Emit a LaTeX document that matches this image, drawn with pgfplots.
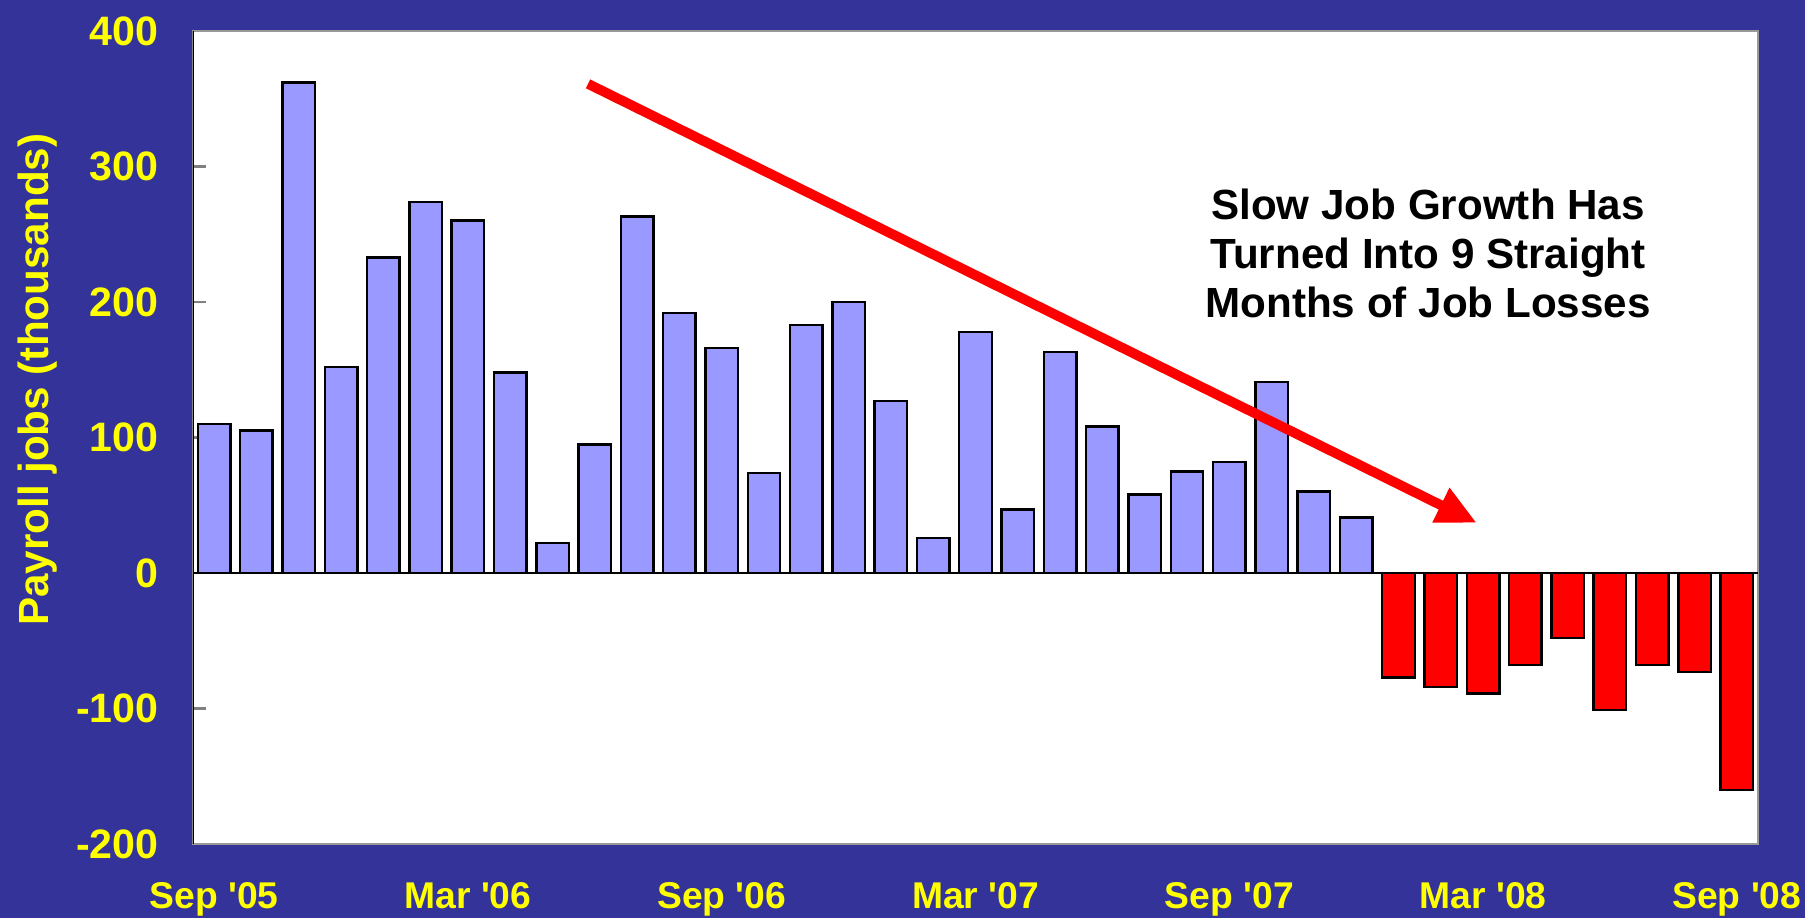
\documentclass[border=0pt]{standalone}
\usepackage{fontspec}
\setmainfont{Liberation Sans}
\usepackage{pgfplots}
\pgfplotsset{compat=1.18}
\usetikzlibrary{arrows.meta}
\definecolor{bg}{RGB}{51,51,153}
\definecolor{barblue}{RGB}{153,153,255}
\definecolor{txtyellow}{RGB}{255,255,0}
\begin{document}
\begin{tikzpicture}
\fill[bg] (0,0) rectangle (180.5mm,91.8mm);
\useasboundingbox (0,0) rectangle (180.5mm,91.8mm);
\begin{axis}[
  at={(19.3mm,7.4mm)}, anchor=south west,
  width=156.5mm, height=81.3mm, scale only axis,
  xmin=0.5, xmax=37.5, ymin=-200, ymax=400,
  axis background/.style={fill=white},
  axis line style={gray!80, line width=0.8pt},
  ytick={-200,-100,0,100,200,300,400},
  xtick={1,7,13,19,25,31,37},
  xticklabels={Sep \textquotesingle05, Mar \textquotesingle06, Sep \textquotesingle06, Mar \textquotesingle07, Sep \textquotesingle07, Mar \textquotesingle08, Sep \textquotesingle08},
  /pgf/number format/assume math mode=true,
  tick align=inside,
  ytick pos=left,
  x tick style={draw=none},
  y tick style={gray, line width=0.6pt},
  major tick length=1.3mm,
  xticklabel style={font=\fontsize{10.6}{12}\selectfont\bfseries, text=txtyellow, anchor=north, yshift=-2.6mm},
  yticklabel style={font=\fontsize{11.7}{13}\selectfont\bfseries, text=txtyellow, xshift=-2.2mm},
  ylabel={Payroll jobs (thousands)},
  ylabel style={at={(axis description cs:-0.086,0.571)}, anchor=south, inner sep=0pt, font=\fontsize{12}{14}\selectfont\bfseries, text=txtyellow},
]
\addplot[ybar, bar width=3.25mm, bar shift=0pt, fill=barblue, draw=black, line width=0.7pt] coordinates {
(1,110) (2,105) (3,362) (4,152) (5,233) (6,274) (7,260) (8,148) (9,22) (10,95)
(11,263) (12,192) (13,166) (14,74) (15,183) (16,200) (17,127) (18,26) (19,178) (20,47)
(21,163) (22,108) (23,58) (24,75) (25,82) (26,141) (27,60) (28,41)
};
\addplot[ybar, bar width=3.25mm, bar shift=0pt, fill=red, draw=black, line width=0.7pt] coordinates {
(29,-77) (30,-84) (31,-89) (32,-68) (33,-48) (34,-101) (35,-68) (36,-73) (37,-160)
};
\draw[black, line width=0.6pt] (axis cs:0.5,0) -- (axis cs:37.5,0);
\draw[black, line width=0.6pt] (axis cs:0.5,-200) -- (axis cs:0.5,400);
\draw[red, line width=2.8pt, -{Triangle[length=4mm,width=3.6mm]}] (axis cs:9.84,361) -- (axis cs:30.85,37);
\node[font=\fontsize{12}{14}\selectfont\bfseries, align=center] at (axis cs:29.7,236) {Slow Job Growth Has\\Turned Into 9 Straight\\Months of Job Losses};
\end{axis}
\end{tikzpicture}
\end{document}
